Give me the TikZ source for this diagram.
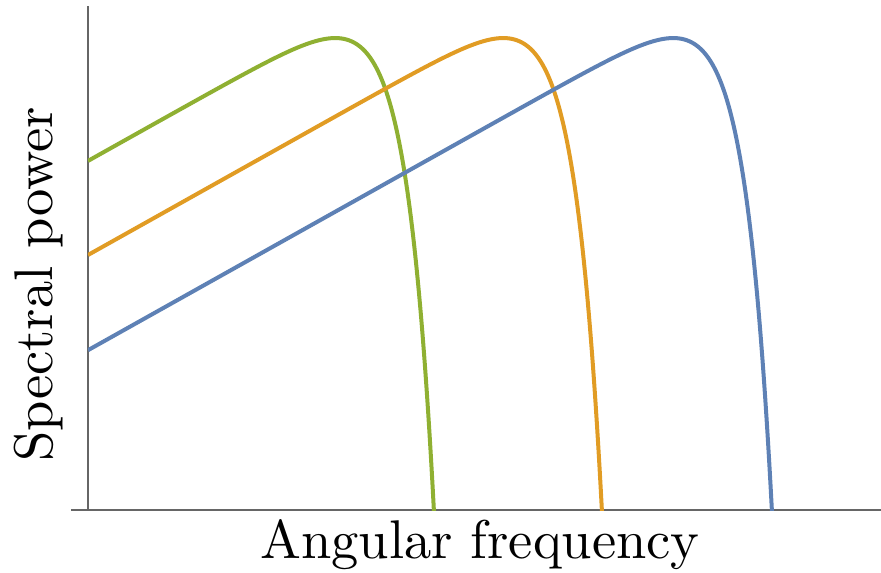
\documentclass[tikz,border=0pt]{standalone}
\usepackage{fontspec}
\usepackage{tikz}

\definecolor{specblue}{RGB}{94,129,181}
\definecolor{specorange}{RGB}{225,156,36}
\definecolor{specgreen}{RGB}{143,176,50}

\begin{document}
\begin{tikzpicture}[x=1pt,y=1pt,
	declare function={spec(\t)=490.2+0.56*\t-18.5*exp(0.036*\t);},
	axis/.style={draw=black!60,line width=1.2pt},
	curve/.style={line width=4pt,line join=round},
	label font/.style={font=\fontsize{10}{12}\selectfont,scale=5.45}]
\useasboundingbox (-88,-63) rectangle (793,510);

\draw[axis] (0,0) -- (0,504);
\draw[axis] (-17,0) -- (793,0);

\begin{scope}
\clip (0,0) rectangle (793,510);
\draw[curve,specgreen] plot[domain=0:346,samples=300] (\x,{spec(\x-252)});
\draw[curve,specorange] plot[domain=0:514,samples=400] (\x,{spec(\x-420)});
\draw[curve,specblue] plot[domain=0:684,samples=500] (\x,{spec(\x-590)});
\end{scope}

\node[label font,anchor=base] (xlabel) at (392,-48) {Angular frequency};
\node[label font,anchor=base,rotate=90] (ylabel) at (-36,225.5) {Spectral power};

\end{tikzpicture}
\end{document}
